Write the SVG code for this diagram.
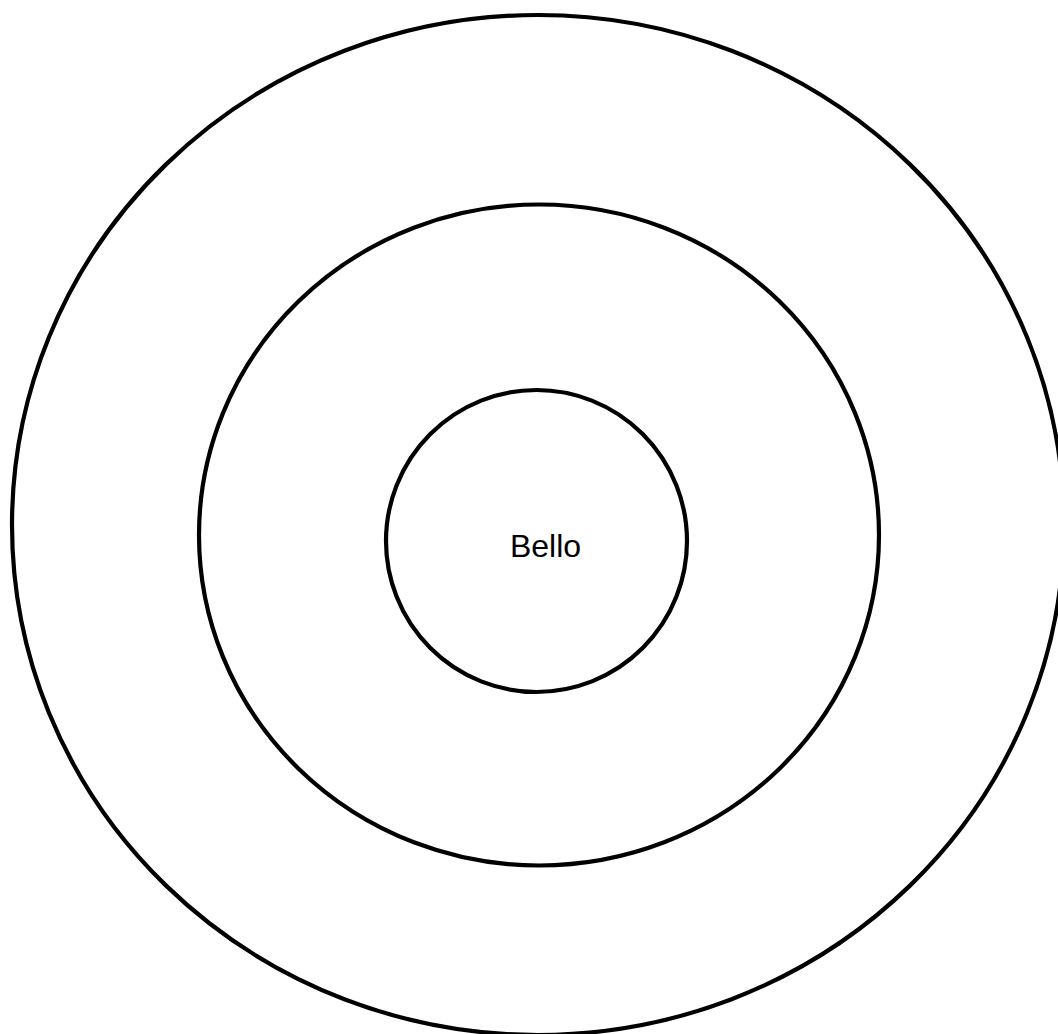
<svg xmlns="http://www.w3.org/2000/svg" width="1058" height="1034" viewBox="0 0 1058 1034">
<style>
.ring{fill:none;stroke:#000;stroke-width:4.2}
.lbl{font-family:"Liberation Sans",Arial,sans-serif;font-size:32px;fill:#000;text-anchor:middle}
</style>
<rect width="1058" height="1034" fill="#fff"/>
<g id="outer"><ellipse class="ring" cx="538" cy="525" rx="526" ry="510"/></g>
<g id="middle"><ellipse class="ring" cx="539" cy="535" rx="340" ry="330.5"/></g>
<g id="inner"><ellipse class="ring" cx="536.5" cy="541" rx="150.5" ry="151"/><text class="lbl" x="545.5" y="556.5">Bello</text></g>
<g id="connectors"/>
</svg>
